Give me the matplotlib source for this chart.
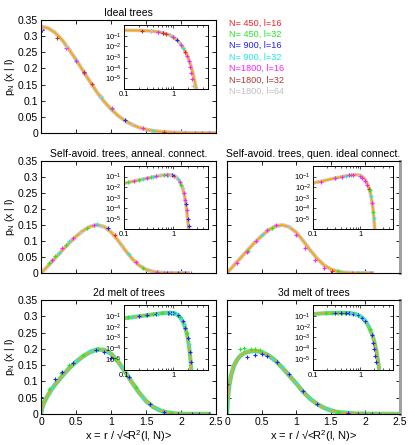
import numpy as np
import matplotlib
matplotlib.use("Agg")
from matplotlib import pyplot as plt
from matplotlib.ticker import FuncFormatter, LogLocator, FixedLocator, NullFormatter, NullLocator

plt.rcParams['font.family'] = ['Liberation Sans', 'DejaVu Sans']
plt.rcParams['mathtext.fontset'] = 'custom'
plt.rcParams['mathtext.rm'] = 'Liberation Sans'
plt.rcParams['mathtext.it'] = 'Liberation Sans:italic'

legend_labels = ["N= 450, l=16", "N= 450, l=32", "N= 900, l=16", "N= 900, l=32",
                 "N=1800, l=16", "N=1800, l=32", "N=1800, l=64"]
series_colors = ["#ff2020", "#22e822", "#2020ff", "#20e8e8", "#ff20ff", "#b03a3a", "#c0c0c0"]
panel_titles = ["Ideal trees", "Self-avoid. trees, anneal. connect.",
                "Self-avoid. trees, quen. ideal connect.", "2d melt of trees", "3d melt of trees"]
x_ticks = [0, 0.5, 1, 1.5, 2, 2.5]
y_ticks = [0, 0.05, 0.1, 0.15, 0.2, 0.25, 0.3, 0.35]
inset_yticks = [1e-1, 1e-2, 1e-3, 1e-4, 1e-5]

# ideal trees
ideal_fit_x = [0, 0.1, 0.2, 0.3, 0.4, 0.5, 0.6, 0.7, 0.8, 0.9, 1.0, 1.1, 1.2, 1.3, 1.4, 1.5,
               1.6, 1.7, 1.8, 1.9, 2.0, 2.2, 2.4, 2.6, 2.8, 3.0]
ideal_fit_y = [0.330, 0.325, 0.311, 0.289, 0.259, 0.227, 0.193, 0.159, 0.126, 0.098, 0.074,
               0.054, 0.038, 0.026, 0.017, 0.011, 0.0069, 0.0043, 0.0025, 0.0014, 8.2e-4,
               2.3e-4, 5.7e-5, 1.3e-5, 2.6e-6, 4.5e-7]
ideal_pts_x = [0.02, 0.02, 0.02, 0.23, 0.36, 0.36, 0.5, 0.5, 0.61, 0.61, 0.73, 0.85, 0.85,
               1.01, 1.01, 1.2, 1.3, 1.45, 1.6, 1.75, 1.9, 2.05, 2.2, 2.3, 2.4, 2.5]
ideal_pts_y = [0.318, 0.322, 0.325, 0.295, 0.263, 0.268, 0.222, 0.226, 0.186, 0.19, 0.153,
               0.113, 0.116, 0.077, 0.073, 0.039, 0.027, 0.014, 0.0068, 0.0031, 0.0012,
               4e-4, 1.1e-4, 3e-5, 8e-6, 2e-6]
ideal_pts_s = [2, 4, 6, 5, 4, 6, 4, 3, 4, 5, 0, 3, 6, 4, 1, 2, 6, 4, 3, 0, 4, 4, 4, 4, 4, 6]

# self-avoiding trees, annealed connectivity
ann_fit_x = [0, 0.1, 0.15, 0.2, 0.3, 0.4, 0.5, 0.6, 0.7, 0.8, 0.9, 1.0, 1.1, 1.2, 1.3, 1.4,
             1.5, 1.6, 1.7, 1.8, 1.9, 2.0, 2.1]
ann_fit_y = [0, 0.022, 0.034, 0.046, 0.07, 0.093, 0.114, 0.132, 0.145, 0.150, 0.145, 0.128,
             0.102, 0.072, 0.045, 0.024, 0.011, 0.0042, 0.0012, 2.4e-4, 3e-5, 2.5e-6, 1.2e-7]
ann_pts_x = [0.0, 0.12, 0.16, 0.2, 0.25, 0.3, 0.35, 0.4, 0.45, 0.55, 0.65, 0.75, 0.8, 0.85,
             0.95, 1.05, 1.15, 1.25, 1.35, 1.45, 1.55, 1.65, 1.75, 1.8, 1.85, 1.95, 2.05, 2.14]
ann_pts_y = [0.0, 0.032, 0.042, 0.052, 0.062, 0.077, 0.088, 0.1, 0.108, 0.128, 0.142, 0.151,
             0.153, 0.148, 0.14, 0.118, 0.088, 0.058, 0.034, 0.017, 0.0075, 0.0028, 6e-4,
             2.5e-4, 7e-5, 1e-5, 2e-6, 3e-7]
ann_pts_s = [4, 1, 4, 1, 3, 4, 1, 3, 4, 6, 1, 4, 3, 6, 2, 0, 6, 3, 4, 1, 6, 4, 4, 2, 4, 2, 2, 4]

# self-avoiding trees, quenched ideal connectivity
que_fit_x = [0, 0.1, 0.15, 0.2, 0.3, 0.4, 0.5, 0.6, 0.7, 0.8, 0.9, 1.0, 1.1, 1.2, 1.3, 1.4,
             1.5, 1.6, 1.7, 1.8, 1.9, 2.0, 2.1]
que_fit_y = [0, 0.024, 0.036, 0.048, 0.072, 0.095, 0.116, 0.134, 0.146, 0.150, 0.144, 0.127,
             0.101, 0.072, 0.046, 0.025, 0.012, 0.0048, 0.0015, 3.5e-4, 5e-5, 4e-6, 2e-7]
que_pts_x = [0.145, 0.29, 0.42, 0.58, 0.71, 0.3, 0.5, 0.65, 0.9, 0.99, 1.12, 1.27, 1.4,
             1.52, 1.6, 1.7, 1.8, 1.9, 1.95, 2.08]
que_pts_y = [0.031, 0.066, 0.1, 0.133, 0.15, 0.07, 0.118, 0.14, 0.143, 0.118, 0.078, 0.042,
             0.017, 0.006, 0.005, 0.0014, 3e-4, 4e-5, 1.2e-5, 5e-7]
que_pts_s = [4, 4, 4, 4, 4, 1, 3, 1, 6, 4, 4, 4, 4, 0, 1, 3, 4, 1, 3, 4]

# 2d melt
m2_fit_x = [0, 0.02, 0.05, 0.1, 0.15, 0.2, 0.3, 0.4, 0.5, 0.6, 0.7, 0.8, 0.9, 1.0, 1.1, 1.2,
            1.3, 1.4, 1.5, 1.6, 1.7, 1.8, 1.9, 2.0, 2.1, 2.2, 2.3, 2.4]
m2_fit_y = [0, 0.022, 0.038, 0.058, 0.075, 0.09, 0.116, 0.14, 0.16, 0.177, 0.19, 0.198, 0.197,
            0.185, 0.161, 0.13, 0.097, 0.066, 0.040, 0.022, 0.011, 0.0045, 0.0016, 4.5e-4,
            1e-4, 1.5e-5, 1.2e-6, 5e-8]
m2_pts_x = [0, 0, 0.12, 0.15, 0.2, 0.28, 0.3, 0.4, 0.45, 0.5, 0.6, 0.7, 0.78, 0.82, 0.9, 0.95,
            1.0, 1.05, 1.15, 1.25, 1.35, 1.45, 1.55, 1.65, 1.75, 1.85, 1.95, 2.05, 2.15,
            2.25, 2.4]
m2_pts_y = [0.052, 0.039, 0.078, 0.082, 0.108, 0.125, 0.13, 0.15, 0.158, 0.165, 0.18, 0.192,
            0.197, 0.2, 0.19, 0.19, 0.172, 0.168, 0.145, 0.115, 0.082, 0.052, 0.03, 0.016,
            0.007, 0.0028, 8e-4, 2.2e-4, 4e-5, 5e-6, 1e-7]
m2_pts_s = [2, 1, 1, 3, 2, 1, 2, 1, 2, 3, 1, 3, 2, 1, 2, 3, 2, 1, 3, 2, 1, 3, 2, 3, 2, 1, 2,
            3, 2, 2, 2]

# 3d melt
m3_fit_x = [0, 0.01, 0.03, 0.06, 0.1, 0.15, 0.2, 0.25, 0.3, 0.4, 0.5, 0.6, 0.7, 0.8, 0.9, 1.0,
            1.1, 1.2, 1.3, 1.4, 1.5, 1.6, 1.8, 2.0, 2.2, 2.4, 2.6]
m3_fit_y = [0, 0.045, 0.085, 0.12, 0.148, 0.168, 0.18, 0.187, 0.191, 0.194, 0.19, 0.18, 0.164,
            0.142, 0.118, 0.094, 0.068, 0.047, 0.031, 0.019, 0.011, 0.0058, 0.0018, 4e-4,
            6e-5, 6e-6, 5e-7]
m3_pts_x = [0, 0, 0.19, 0.25, 0.29, 0.34, 0.4, 0.41, 0.48, 0.5, 0.58, 0.65, 0.72, 0.8, 0.9,
            1.0, 1.1, 1.2, 1.3, 1.45, 1.6, 1.75, 1.9, 2.0, 2.1, 2.2]
m3_pts_y = [0.092, 0.088, 0.2, 0.202, 0.176, 0.2, 0.182, 0.2, 0.198, 0.185, 0.178, 0.17,
            0.16, 0.145, 0.122, 0.096, 0.07, 0.05, 0.032, 0.015, 0.006, 0.0018, 3e-4, 8e-5,
            2e-5, 5e-6]
m3_pts_s = [2, 1, 1, 1, 2, 1, 2, 1, 1, 2, 2, 3, 2, 3, 2, 3, 2, 3, 2, 3, 1, 2, 2, 2, 2, 2]

orange = "#ffa500"
W, H = 415.0, 445.0


def px_axes(fig, x0, x1, y0, y1):
    return fig.add_axes([x0 / W, 1 - y1 / H, (x1 - x0) / W, (y1 - y0) / H])


def draw(ax, fx, fy, px, py, ps, melt, inset=False):
    fx, fy = np.array(fx), np.array(fy)
    px, py, ps = np.array(px), np.array(py), np.array(ps)
    if inset:
        k = (fx > 0) & (fy > 0)
        fx, fy = fx[k], fy[k]
        k = (px > 0) & (py > 0)
        px, py, ps = px[k], py[k], ps[k]
    band = 2.6 if inset else 2.9
    if melt:
        ax.plot(fx, fy, color="#5ae65a", lw=band + 0.3)
        ax.plot(fx, fy, color="#3ad8d8", lw=band - 0.7)
        ax.plot(fx, fy, color=orange, lw=1.1)
    else:
        ax.plot(fx, fy, color="#cbcbcb", lw=band)
        ax.plot(fx, fy, color=orange, lw=1.2)
    for s in range(7):
        k = ps == s
        if k.any():
            ax.plot(px[k], py[k], "+", color=series_colors[s], ms=2.6, mew=0.8, ls="none")


def style_main(ax, xlab, ylab, right_col):
    ax.set_xlim(0, 2.5)
    ax.set_ylim(0, 0.35)
    ax.xaxis.set_major_locator(FixedLocator(x_ticks))
    ax.yaxis.set_major_locator(FixedLocator(y_ticks))
    ax.tick_params(direction="in", top=True, right=True, length=3, width=0.6,
                   labelsize=7.5, pad=2)
    ax.xaxis.set_major_formatter(FuncFormatter(lambda v, p: "%g" % v))
    ax.yaxis.set_major_formatter(FuncFormatter(lambda v, p: "%g" % v))
    if not xlab:
        ax.set_xticklabels([])
    if not ylab:
        ax.set_yticklabels([])
    for sp in ax.spines.values():
        sp.set_linewidth(0.8)
    if right_col:
        ax.spines["right"].set_color("#a0a0a0")
        ax.spines["right"].set_linewidth(2.2)


def style_inset(ax):
    ax.set_xscale("log")
    ax.set_yscale("log")
    ax.set_xlim(0.1, 5)
    ax.set_ylim(1e-6, 1)
    ax.xaxis.set_major_locator(FixedLocator([0.1, 1]))
    ax.xaxis.set_major_formatter(FuncFormatter(lambda v, p: "%g" % v))
    ax.xaxis.set_minor_locator(LogLocator(subs=np.arange(2, 10)))
    ax.xaxis.set_minor_formatter(NullFormatter())
    ax.yaxis.set_major_locator(FixedLocator(inset_yticks))
    ax.yaxis.set_major_formatter(FuncFormatter(lambda v, p: r"$10^{%d}$" % round(np.log10(v))))
    ax.yaxis.set_minor_locator(NullLocator())
    ax.tick_params(which="both", direction="in", top=True, right=True, width=0.5,
                   labelsize=5.5, pad=1.5)
    ax.tick_params(which="major", length=2.2)
    ax.tick_params(which="minor", length=1.2)
    for sp in ax.spines.values():
        sp.set_linewidth(0.7)


fig = plt.figure(figsize=(4.15, 4.45), dpi=100)

panels = [
    (41, 216, 20, 133, ideal_fit_x, ideal_fit_y, ideal_pts_x, ideal_pts_y, ideal_pts_s, False),
    (41, 216, 161, 273, ann_fit_x, ann_fit_y, ann_pts_x, ann_pts_y, ann_pts_s, False),
    (227, 400, 161, 273, que_fit_x, que_fit_y, que_pts_x, que_pts_y, que_pts_s, False),
    (41, 216, 300, 414, m2_fit_x, m2_fit_y, m2_pts_x, m2_pts_y, m2_pts_s, True),
    (227, 400, 300, 414, m3_fit_x, m3_fit_y, m3_pts_x, m3_pts_y, m3_pts_s, True),
]

for i, (x0, x1, y0, y1, fx, fy, px, py, ps, melt) in enumerate(panels):
    ax = px_axes(fig, x0, x1, y0, y1)
    right_col = x0 > 200
    draw(ax, fx, fy, px, py, ps, melt)
    style_main(ax, xlab=(i >= 3), ylab=not right_col, right_col=right_col)
    ax.set_title(panel_titles[i], fontsize=7.5, pad=3)
    if not right_col:
        ax.set_ylabel(r"p$_\mathrm{N}$ (x | l)", fontsize=7.5, labelpad=1)
    if i >= 3:
        ax.set_xlabel(r"x = r / √<R$^2$(l, N)>", fontsize=8, labelpad=1)
    if right_col:
        ins = ax.inset_axes([0.497, 0.39, 0.463, 0.565])
    else:
        ins = ax.inset_axes([0.472, 0.39, 0.482, 0.565])
    draw(ins, fx, fy, px, py, ps, melt, inset=True)
    style_inset(ins)

for j, lab in enumerate(legend_labels):
    fig.text(229 / W, 1 - (23 + 11.4 * j) / H, lab, color=series_colors[j], fontsize=6.6,
             va="center", ha="left")

plt.savefig("out.png", dpi=100)
